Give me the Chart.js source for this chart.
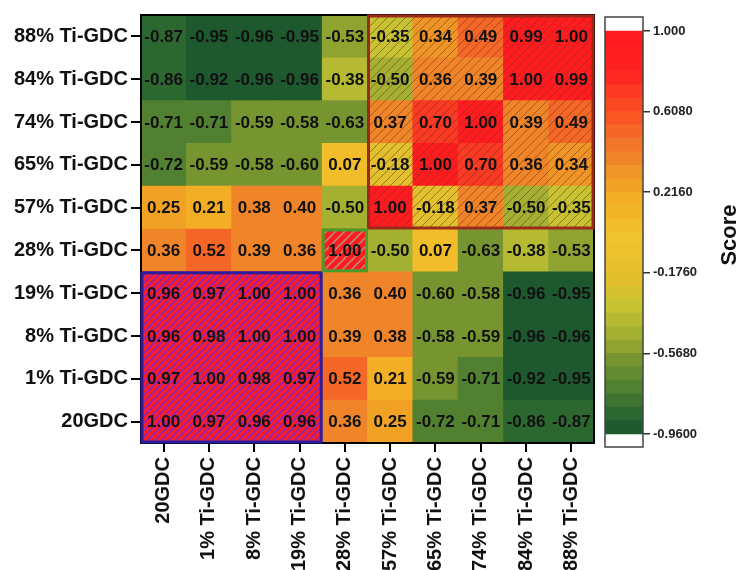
<!DOCTYPE html>
<html>
<head>
<meta charset="utf-8">
<script src="https://cdn.jsdelivr.net/npm/chart.js@4.4.1/dist/chart.umd.min.js"></script>
<style>
  body { margin: 0; background: #fff; }
  #wrap { position: relative; width: 737px; height: 570px; overflow: hidden; }
  #heat { position: absolute; left: 0; top: 0; }
  #bar { position: absolute; left: 600px; top: 0; }
</style>
</head>
<body>
<div id="wrap">
  <canvas id="heat" width="737" height="570"></canvas>
  <canvas id="bar" width="137" height="570"></canvas>
</div>
<script>
// rows bottom -> top, columns left -> right (same order)
const rowLabels = ['20GDC', '1% Ti-GDC', '8% Ti-GDC', '19% Ti-GDC', '28% Ti-GDC',
                   '57% Ti-GDC', '65% Ti-GDC', '74% Ti-GDC', '84% Ti-GDC', '88% Ti-GDC'];
const colLabels = rowLabels;

const s20GDC = [1.00, 0.97, 0.96, 0.96, 0.36, 0.25, -0.72, -0.71, -0.86, -0.87];
const s1     = [0.97, 1.00, 0.98, 0.97, 0.52, 0.21, -0.59, -0.71, -0.92, -0.95];
const s8     = [0.96, 0.98, 1.00, 1.00, 0.39, 0.38, -0.58, -0.59, -0.96, -0.96];
const s19    = [0.96, 0.97, 1.00, 1.00, 0.36, 0.40, -0.60, -0.58, -0.96, -0.95];
const s28    = [0.36, 0.52, 0.39, 0.36, 1.00, -0.50, 0.07, -0.63, -0.38, -0.53];
const s57    = [0.25, 0.21, 0.38, 0.40, -0.50, 1.00, -0.18, 0.37, -0.50, -0.35];
const s65    = [-0.72, -0.59, -0.58, -0.60, 0.07, -0.18, 1.00, 0.70, 0.36, 0.34];
const s74    = [-0.71, -0.71, -0.59, -0.58, -0.63, 0.37, 0.70, 1.00, 0.39, 0.49];
const s84    = [-0.86, -0.92, -0.96, -0.96, -0.38, -0.50, 0.36, 0.39, 1.00, 0.99];
const s88    = [-0.87, -0.95, -0.96, -0.95, -0.53, -0.35, 0.34, 0.49, 0.99, 1.00];
const scores = [s20GDC, s1, s8, s19, s28, s57, s65, s74, s84, s88];

const cbTicks      = [1.0, 0.608, 0.216, -0.176, -0.568, -0.96];
const cbTickLabels = ['1.000', '0.6080', '0.2160', '-0.1760', '-0.5680', '-0.9600'];

const FONT = '"Liberation Sans", Arial, sans-serif';
Chart.defaults.font.family = FONT;

// colour scale (stepped, like the colour bar)
const cmin = -0.96, cmax = 1.0, nBands = 30;
const stops = [
  [-0.96, [22, 80, 46]],
  [-0.85, [48, 106, 48]],
  [-0.75, [75, 125, 48]],
  [-0.62, [110, 145, 48]],
  [-0.55, [140, 160, 48]],
  [-0.45, [170, 180, 50]],
  [-0.33, [200, 195, 50]],
  [-0.20, [228, 192, 45]],
  [0.00, [240, 195, 45]],
  [0.20, [242, 172, 35]],
  [0.35, [238, 140, 40]],
  [0.50, [245, 105, 38]],
  [0.65, [250, 70, 35]],
  [0.80, [255, 35, 32]],
  [1.00, [255, 26, 32]],
];
function lerpColor(v) {
  for (let i = 1; i < stops.length; i++) {
    if (v <= stops[i][0]) {
      const [v0, c0] = stops[i - 1], [v1, c1] = stops[i];
      const t = (v - v0) / (v1 - v0);
      const c = c0.map((a, k) => Math.round(a + (c1[k] - a) * t));
      return `rgb(${c[0]},${c[1]},${c[2]})`;
    }
  }
  const c = stops[stops.length - 1][1];
  return `rgb(${c[0]},${c[1]},${c[2]})`;
}
function bandIndex(v) {
  return Math.min(nBands - 1, Math.max(0, Math.floor((v - cmin) / (cmax - cmin) * nBands)));
}
function bandColor(i) {
  return lerpColor(cmin + (i + 0.5) * (cmax - cmin) / nBands);
}

// hatched blocks
const regions = [
  { cols: [5, 9], rows: [5, 9], line: 'rgba(105,55,25,0.55)', size: 9, lw: 1, edge: '#9c2a1c' },
  { cols: [0, 3], rows: [0, 3], line: 'rgba(125,40,210,0.9)', size: 7, lw: 1.6, edge: '#2c1c9c' },
  { cols: [4, 4], rows: [4, 4], line: 'rgba(170,160,130,0.9)', size: 9, lw: 1.5, edge: '#4c9a2c' },
];

const patCache = {};
function hatch(base, line, size, width) {
  const key = base + line + size;
  if (patCache[key]) return patCache[key];
  const c = document.createElement('canvas');
  c.width = c.height = size;
  const g = c.getContext('2d');
  g.fillStyle = base;
  g.fillRect(0, 0, size, size);
  g.strokeStyle = line;
  g.lineWidth = width;
  g.beginPath();
  g.moveTo(-1, size + 1); g.lineTo(size + 1, -1);
  g.moveTo(-1, 1); g.lineTo(1, -1);
  g.moveTo(size - 1, size + 1); g.lineTo(size + 1, size - 1);
  g.stroke();
  return (patCache[key] = g.createPattern(c, 'repeat'));
}

function cellFill(v, r, c) {
  const base = bandColor(bandIndex(v));
  const g = regions.find(g => c >= g.cols[0] && c <= g.cols[1] && r >= g.rows[0] && r <= g.rows[1]);
  return g ? hatch(base, g.line, g.size, g.lw) : base;
}

const datasets = scores.map((row, r) => ({
  data: colLabels.map(() => [r, r + 1]),
  backgroundColor: row.map((v, c) => cellFill(v, r, c)),
  borderWidth: 0,
  grouped: false,
  barPercentage: 1,
  categoryPercentage: 1,
}));

const cellPlugin = {
  id: 'cells',
  afterDatasetsDraw(chart) {
    const { ctx, chartArea: a, scales: { x, y } } = chart;
    ctx.save();
    ctx.strokeStyle = '#000';
    ctx.lineWidth = 2;
    ctx.strokeRect(a.left, a.top, a.width, a.height);

    regions.forEach(g => {
      const x0 = x.getPixelForValue(g.cols[0] - 0.5), x1 = x.getPixelForValue(g.cols[1] + 0.5);
      const y0 = y.getPixelForValue(g.rows[1] + 1), y1 = y.getPixelForValue(g.rows[0]);
      ctx.strokeStyle = g.edge;
      ctx.lineWidth = 3;
      ctx.strokeRect(x0 + 1, y0 + 1, x1 - x0 - 2, y1 - y0 - 2);
    });

    ctx.font = `bold 17px ${FONT}`;
    ctx.fillStyle = '#111';
    ctx.textAlign = 'center';
    ctx.textBaseline = 'middle';
    scores.forEach((row, r) => {
      chart.getDatasetMeta(r).data.forEach((bar, c) => {
        ctx.fillText(row[c].toFixed(2), bar.x, (bar.y + bar.base) / 2 + 1);
      });
    });
    ctx.restore();
  }
};

const axisFont = { size: 20, weight: 'bold' };

new Chart(document.getElementById('heat'), {
  type: 'bar',
  data: { labels: colLabels, datasets },
  options: {
    responsive: false,
    animation: false,
    layout: { padding: { top: 12, right: 143, left: 0, bottom: 0 } },
    plugins: { legend: { display: false }, tooltip: { enabled: false } },
    scales: {
      x: {
        afterFit: s => { s.height = 127; },
        ticks: { maxRotation: 90, minRotation: 90, autoSkip: false, font: axisFont, color: '#111', padding: 5 },
        grid: { offset: false, drawOnChartArea: false, tickLength: 9, color: '#000', lineWidth: 2 },
        border: { display: false },
      },
      y: {
        min: 0,
        max: 10,
        afterBuildTicks: s => { s.ticks = rowLabels.map((_, i) => ({ value: i + 0.5 })); },
        afterFit: s => { s.width = 141; },
        ticks: { callback: (v, i) => rowLabels[i], font: axisFont, color: '#111', padding: 3 },
        grid: { drawOnChartArea: false, tickLength: 10, color: '#000', lineWidth: 2 },
        border: { display: false },
      },
    },
  },
  plugins: [cellPlugin],
});

// colour bar
const span = (cmax - cmin) / nBands;
const bandSets = Array.from({ length: nBands }, (_, i) => ({
  data: [[cmin + i * span, cmin + (i + 1) * span]],
  backgroundColor: bandColor(i),
  borderWidth: 0,
  grouped: false,
  barPercentage: 1,
  categoryPercentage: 1,
}));

const cbPlugin = {
  id: 'cbFrame',
  afterDraw(chart) {
    const { ctx, chartArea: a } = chart;
    ctx.save();
    ctx.strokeStyle = '#444';
    ctx.lineWidth = 1.5;
    ctx.strokeRect(a.left, a.top, a.width, a.height);
    ctx.translate(130, 235);
    ctx.rotate(-Math.PI / 2);
    ctx.font = `bold 22px ${FONT}`;
    ctx.fillStyle = '#111';
    ctx.textAlign = 'center';
    ctx.textBaseline = 'middle';
    ctx.fillText('Score', 0, 0);
    ctx.restore();
  }
};

new Chart(document.getElementById('bar'), {
  type: 'bar',
  data: { labels: [''], datasets: bandSets },
  options: {
    responsive: false,
    animation: false,
    layout: { padding: { left: 5, top: 17, bottom: 123, right: 0 } },
    plugins: { legend: { display: false }, tooltip: { enabled: false } },
    scales: {
      x: { display: false },
      y: {
        position: 'right',
        min: -1.023,
        max: 1.068,
        afterBuildTicks: s => { s.ticks = cbTicks.map(v => ({ value: v })); },
        afterFit: s => { s.width = 94; },
        ticks: { callback: (v, i) => cbTickLabels[i], font: { size: 13, weight: 'bold' }, color: '#222', padding: 3 },
        grid: { drawOnChartArea: false, tickLength: 7, color: '#333', lineWidth: 1.5 },
        border: { display: false },
      },
    },
  },
  plugins: [cbPlugin],
});
</script>
</body>
</html>
